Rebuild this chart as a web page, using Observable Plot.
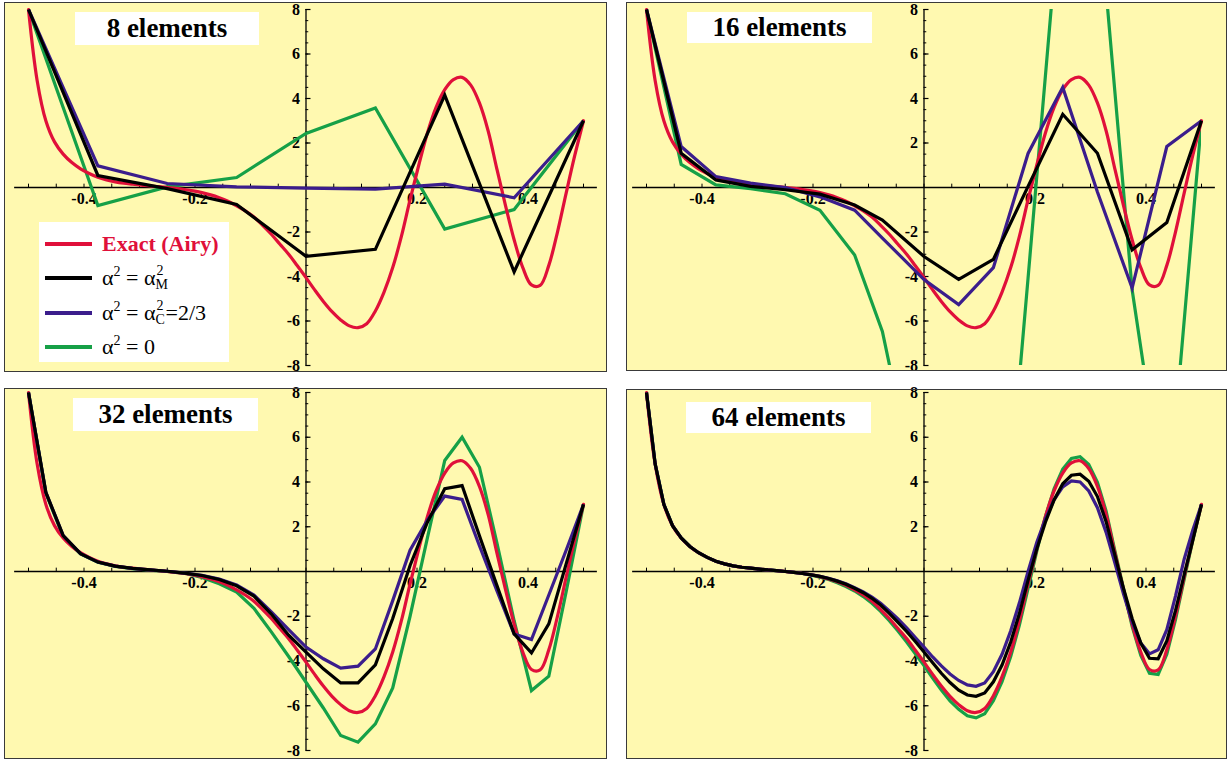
<!DOCTYPE html>
<html><head><meta charset="utf-8">
<script src="https://cdn.jsdelivr.net/npm/d3@7"></script>
<script src="https://cdn.jsdelivr.net/npm/@observablehq/plot@0.6"></script>
<style>
body{margin:0;background:#fff;}
#root{position:relative;width:1229px;height:762px;overflow:hidden;background:#fff;font-family:"Liberation Serif","Times New Roman",serif;}
.pw{position:absolute;}
.title{position:absolute;background:#fff;font-weight:bold;font-size:27px;text-align:center;color:#000;z-index:2;white-space:nowrap;font-family:"Liberation Serif",serif;}
.legend{position:absolute;background:#fff;z-index:2;}
.row{position:absolute;left:0;height:30px;width:100%;}
.sw{position:absolute;left:6px;top:13px;width:47px;height:4px;}
.lt{position:absolute;left:63px;top:0;line-height:30px;font-size:22px;white-space:nowrap;color:#000;font-family:"Liberation Serif",serif;}
.lt sup{font-size:14px;vertical-align:0;position:relative;top:-9px;}
.stk{display:inline-block;position:relative;width:14px;height:1px;vertical-align:baseline;}
.stk.n{width:10px;}
.stk .a{position:absolute;left:1px;top:-20px;font-size:14px;line-height:14px;}
.stk .b{position:absolute;left:0;top:-6px;font-size:14px;line-height:14px;}
</style>
</head><body>
<div id="root"></div>
<script>
// ---------------- data ----------------
// exact (Airy) solution, sampled at 1/64 steps
const x64 = [-0.5,-0.484375,-0.46875,-0.453125,-0.4375,-0.421875,-0.40625,-0.390625,-0.375,-0.359375,-0.34375,-0.328125,-0.3125,-0.296875,-0.28125,-0.265625,-0.25,-0.234375,-0.21875,-0.203125,-0.1875,-0.171875,-0.15625,-0.140625,-0.125,-0.109375,-0.09375,-0.078125,-0.0625,-0.046875,-0.03125,-0.015625,0,0.015625,0.03125,0.046875,0.0625,0.078125,0.09375,0.109375,0.125,0.140625,0.15625,0.171875,0.1875,0.203125,0.21875,0.234375,0.25,0.265625,0.28125,0.296875,0.3125,0.328125,0.34375,0.359375,0.375,0.390625,0.40625,0.421875,0.4375,0.453125,0.46875,0.484375,0.5];
const exactY = [8.0,4.8,3.0,2.05,1.5,1.12,0.84,0.63,0.46,0.34,0.25,0.19,0.15,0.11,0.07,0.04,0.0,-0.04,-0.09,-0.15,
  -0.23,-0.33,-0.46,-0.62,-0.82,-1.05,-1.33,-1.7,-2.1,-2.55,-3.0,-3.52,-4.05,-4.6,-5.12,-5.58,-5.95,-6.22,-6.3,-6.12,-5.55,-4.7,-3.6,-2.2,-0.55,1.0,2.45,3.6,4.4,4.85,4.95,4.6,3.8,2.55,0.85,-0.8,-2.35,-3.6,-4.38,-4.4,-3.5,-2.0,-0.25,1.45,3.0];

// 8 elements
const x8 = [-0.5,-0.375,-0.25,-0.125,0,0.125,0.25,0.375,0.5];
const m8 = [8,0.54,-0.05,-0.76,-3.09,-2.78,4.15,-3.79,3.0];
const c8 = [8,0.97,0.18,0.03,-0.03,-0.07,0.15,-0.46,3.0];
const z8 = [8,-0.81,0.03,0.45,2.43,3.57,-1.87,-0.99,3.0];

// 16 elements
const x16 = [-0.5,-0.4375,-0.375,-0.3125,-0.25,-0.1875,-0.125,-0.075,0,0.0625,0.125,0.1875,0.25,0.3125,0.375,0.4375,0.5];
const m16 = [8,1.54,0.34,0.05,-0.1,-0.3,-0.79,-1.46,-3.1,-4.13,-3.23,0.05,3.29,1.54,-2.8,-1.57,3.0];
const c16 = [8,1.84,0.49,0.2,0.0,-0.42,-1.02,-2.27,-4.14,-5.26,-3.6,1.53,4.5,-0.2,-4.52,1.84,3.0];
const z16 = [8,1.04,0.12,-0.05,-0.28,-1.02,-3.03,-6.47,-15.3,-22,-22,-4.07,14.1,13.3,-4.6,-15,3.0];

// 32 elements
const x32 = [-0.5,-0.46875,-0.4375,-0.40625,-0.375,-0.34375,-0.3125,-0.28125,-0.25,-0.21875,-0.1875,-0.15625,-0.125,-0.09375,-0.0625,-0.03125,0,0.03125,0.0625,0.09375,0.125,0.15625,0.1875,0.21875,0.25,0.28125,0.3125,0.34375,0.375,0.40625,0.4375,0.46875,0.5];
const m32 = [8,3.54,1.6,0.8,0.42,0.24,0.14,0.07,0.01,-0.07,-0.18,-0.36,-0.64,-1.1,-1.9,-2.85,-3.6,-4.35,-4.98,-4.98,-4.17,-2.1,0.27,2.2,3.7,3.84,1.6,-0.6,-2.79,-3.64,-2.34,0.34,3.0];
const c32 = [8,3.54,1.6,0.8,0.42,0.24,0.14,0.07,0.01,-0.07,-0.17,-0.34,-0.6,-1.05,-1.8,-2.6,-3.38,-3.9,-4.32,-4.23,-3.46,-1.3,0.95,2.3,3.37,3.22,1.15,-0.85,-2.79,-3.04,-1.05,0.95,3.0];
const z32 = [8,3.5,1.55,0.78,0.41,0.23,0.13,0.06,0.0,-0.08,-0.27,-0.55,-0.92,-1.65,-2.7,-3.8,-4.95,-6.1,-7.33,-7.63,-6.81,-5.2,-2.0,1.5,4.96,6.0,4.66,1.3,-2.2,-5.32,-4.68,-0.9,3.0];

// 64 elements
const m64 = [8.0,4.8,3.0,2.05,1.5,1.12,0.84,0.63,0.46,0.34,0.25,0.19,0.15,0.11,0.07,0.04,0.0,-0.04,-0.09,-0.15,
  -0.22,-0.31,-0.43,-0.57,-0.75,-0.95,-1.2,-1.5,-1.87,-2.27,-2.68,-3.13,-3.6,-4.08,-4.55,-4.96,-5.3,-5.52,-5.58,-5.43,-4.93,-4.18,-3.15,-1.88,-0.4,1.0,2.2,3.2,3.92,4.3,4.35,4.03,3.35,2.23,0.75,-0.75,-2.1,-3.2,-3.88,-3.9,-3.1,-1.75,-0.15,1.4,3.0];
const c64 = [8.0,4.8,3.0,2.05,1.5,1.12,0.84,0.63,0.46,0.34,0.25,0.19,0.15,0.11,0.07,0.04,0.0,-0.04,-0.09,-0.15,
  -0.21,-0.3,-0.41,-0.55,-0.72,-0.91,-1.14,-1.42,-1.76,-2.12,-2.52,-2.95,-3.38,-3.82,-4.22,-4.58,-4.87,-5.07,-5.13,-4.98,-4.48,-3.7,-2.65,-1.4,0.0,1.3,2.35,3.2,3.78,4.05,4.0,3.6,2.85,1.75,0.4,-1.0,-2.25,-3.2,-3.68,-3.5,-2.6,-1.1,0.55,1.85,3.0];
const z64 = [8.0,4.8,3.0,2.05,1.5,1.12,0.84,0.63,0.46,0.34,0.25,0.19,0.15,0.11,0.07,0.04,0.0,-0.04,-0.09,-0.16,
  -0.25,-0.36,-0.5,-0.67,-0.87,-1.12,-1.42,-1.78,-2.2,-2.66,-3.15,-3.68,-4.2,-4.76,-5.3,-5.78,-6.16,-6.45,-6.54,-6.36,-5.78,-4.92,-3.8,-2.4,-0.75,0.9,2.45,3.7,4.58,5.05,5.13,4.78,3.98,2.7,0.95,-0.75,-2.45,-3.75,-4.55,-4.6,-3.7,-2.15,-0.35,1.4,3.0];

// axes
const xTickVals = [-0.4,-0.2,0.2,0.4];
const xTickLabels = ["-0.4","-0.2","0.2","0.4"];
const yTickVals = [-8,-6,-4,-2,2,4,6,8];
const yTickLabels = ["-8","-6","-4","-2","2","4","6","8"];
const xMinor = d3.range(-10, 11).map(k => k * 0.05);
const yMinor = d3.range(-16, 17).map(k => k * 0.5);

const titles = ["8 elements","16 elements","32 elements","64 elements"];
const legendLabels = ["Exact (Airy)","α2 = α2M","α2 = α2C=2/3","α2 = 0"];

// ---------------- styles ----------------
const COL = {exact:"#E0103A", m:"#000000", c:"#3B1D8C", z:"#16A047"};
const BG = "#FFF9B0";

const panels = [
  {left:4,   top:2,   width:603, height:370, ml:24, mr:24, mt:7, mb:7, xs:x8,  m:m8,  c:c8,  z:z8,
   title:{left:75, top:12, w:184, h:33}},
  {left:626, top:2,   width:601, height:369, ml:20, mr:26, mt:7, mb:6, xs:x16, m:m16, c:c16, z:z16,
   title:{left:687, top:12, w:185, h:31}},
  {left:4,   top:388, width:603, height:371, ml:24, mr:24, mt:4, mb:9, xs:x32, m:m32, c:c32, z:z32,
   title:{left:73, top:398, w:185, h:33}},
  {left:626, top:389, width:601, height:370, ml:20, mr:26, mt:3, mb:9, xs:x64, m:m64, c:c64, z:z64,
   title:{left:686, top:402, w:185, h:31}}
];

const root = document.getElementById("root");
const font = "Liberation Serif";

function rows(xs, ys) { return xs.map((x, i) => ({x, y: ys[i]})); }
function outOfRange(ys) { return ys.some(v => Math.abs(v) > 8); }

panels.forEach((p, idx) => {
  const lineOpts = (ys, color) => Plot.line(rows(p.xs, ys), {
    x: "x", y: "y", stroke: color, strokeWidth: 3.2,
    strokeLinejoin: "miter", strokeLinecap: "butt", strokeMiterlimit: 6,
    clip: outOfRange(ys)
  });
  const svg = Plot.plot({
    width: p.width, height: p.height,
    marginLeft: p.ml, marginRight: p.mr, marginTop: p.mt, marginBottom: p.mb,
    x: {domain: [-0.5, 0.5], axis: null},
    y: {domain: [-8, 8], axis: null},
    style: `background:${BG};outline:1px solid #3a3a3a;outline-offset:-1px;overflow:visible;max-width:none;`,
    marks: [
      Plot.ruleY([0], {x1: () => -0.525, x2: () => 0.525, stroke: "#000", strokeWidth: 1.3}),
      Plot.ruleX([0], {y1: () => -8, y2: () => 8, stroke: "#000", strokeWidth: 1.3}),
      Plot.ruleX(xMinor, {x: d => d, y1: () => 0, y2: () => 0.15, stroke: "#000", strokeWidth: 1}),
      Plot.ruleY(yMinor, {y: d => d, x1: () => 0, x2: () => 0.005, stroke: "#000", strokeWidth: 1}),
      Plot.ruleY(yTickVals, {y: d => d, x1: () => 0, x2: () => 0.009, stroke: "#000", strokeWidth: 1.2}),
      Plot.text(xTickVals, {x: d => d, y: () => 0, text: (d, i) => xTickLabels[i], dy: 11,
        fontFamily: font, fontWeight: "bold", fontSize: 16, fill: "#000"}),
      Plot.text(yTickVals, {x: () => 0, y: d => d, text: (d, i) => yTickLabels[i], dx: -6, textAnchor: "end",
        fontFamily: font, fontWeight: "bold", fontSize: 16, fill: "#000"}),
      lineOpts(p.z, COL.z),
      Plot.line(rows(x64, exactY), {x: "x", y: "y", stroke: COL.exact, strokeWidth: 3.2, curve: "catmull-rom"}),
      lineOpts(p.c, COL.c),
      lineOpts(p.m, COL.m)
    ]
  });
  const wrap = document.createElement("div");
  wrap.className = "pw";
  wrap.style.left = p.left + "px";
  wrap.style.top = p.top + "px";
  wrap.style.width = p.width + "px";
  wrap.style.height = p.height + "px";
  wrap.appendChild(svg);
  root.appendChild(wrap);

  const t = document.createElement("div");
  t.className = "title";
  t.style.left = p.title.left + "px";
  t.style.top = p.title.top + "px";
  t.style.width = p.title.w + "px";
  t.style.height = p.title.h + "px";
  t.style.lineHeight = p.title.h + "px";
  t.textContent = titles[idx];
  root.appendChild(t);
});

// legend (in the first panel)
const lg = document.createElement("div");
lg.className = "legend";
lg.style.left = "39px"; lg.style.top = "222px"; lg.style.width = "190px"; lg.style.height = "140px";
const legendHTML = [
  `<span style="color:${COL.exact};font-weight:bold">${legendLabels[0]}</span>`,
  `α<sup>2</sup> = α<span class="stk"><span class="a">2</span><span class="b">M</span></span>`,
  `α<sup>2</sup> = α<span class="stk n"><span class="a">2</span><span class="b">C</span></span>=2/3`,
  `α<sup>2</sup> = 0`
];
const legendColors = [COL.exact, COL.m, COL.c, COL.z];
const rowTops = [7, 41, 76, 110];
legendHTML.forEach((h, i) => {
  const r = document.createElement("div");
  r.className = "row";
  r.style.top = rowTops[i] + "px";
  r.innerHTML = `<span class="sw" style="background:${legendColors[i]}"></span><span class="lt" title="${legendLabels[i]}">${h}</span>`;
  lg.appendChild(r);
});
root.appendChild(lg);
</script>
</body></html>
